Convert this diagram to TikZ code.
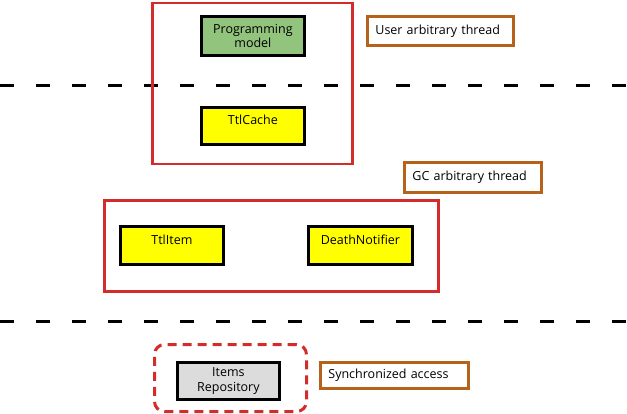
\documentclass[tikz,border=0pt]{standalone}
\usepackage{fontspec}
\setmainfont{Open Sans}
\definecolor{redline}{HTML}{D42B2B}
\definecolor{noteline}{HTML}{B5631A}
\definecolor{pmgreen}{HTML}{93C47D}
\definecolor{ttlyellow}{HTML}{FFFF00}
\definecolor{repogrey}{HTML}{DCDCDC}
\tikzset{
  comp/.style={draw=black, line width=2.8pt, minimum width=103pt, minimum height=38pt, align=center, font=\fontsize{12.5}{14.5}\selectfont, inner sep=0pt, anchor=north west},
  note/.style={draw=noteline, line width=2.8pt, fill=white, font=\fontsize{12.5}{14.5}\selectfont, inner xsep=8pt, inner ysep=0pt, anchor=north west, align=left},
  group/.style={draw=redline, line width=2.8pt},
  sep/.style={line width=3pt, dash pattern=on 14pt off 22pt}
}
\begin{document}
\begin{tikzpicture}[x=1pt, y=-1pt]
\useasboundingbox (0,0) rectangle (627,413);
% separators
\coordinate (s1a) at (0,85); \coordinate (s1b) at (627,85);
\coordinate (s2a) at (0,321); \coordinate (s2b) at (627,321);
\draw[sep] (s1a) -- (s1b);
\draw[sep] (s2a) -- (s2b);
% groups
\node[group, anchor=north west, minimum width=200pt, minimum height=161pt, inner sep=0pt] (g1) at (151,1.5) {};
\node[group, anchor=north west, minimum width=334pt, minimum height=91pt, inner sep=0pt] (g2) at (103,199) {};
\node[draw=redline, line width=3pt, dash pattern=on 9pt off 6pt, rounded corners=10pt, anchor=north west, minimum width=152pt, minimum height=67pt, inner sep=0pt] (g3) at (153,343) {};
% components
\node[comp, fill=pmgreen, minimum height=39pt] (pm) at (200,15) {Programming\\model};
\node[comp, fill=ttlyellow, minimum height=37pt, text depth=12pt] (tc) at (200,106) {TtlCache};
\node[comp, fill=ttlyellow, text depth=12pt] (ti) at (119,225) {TtlItem};
\node[comp, fill=ttlyellow, minimum width=104pt, text depth=12pt] (dn) at (307,225) {DeathNotifier};
\node[comp, fill=repogrey, minimum width=102pt, minimum height=37pt] (ir) at (176,361) {Items\\Repository};
% notes
\node[note, text width=130pt, minimum height=29pt] (n1) at (366,15) {User arbitrary thread};
\node[note, text width=121pt, minimum height=30pt] (n2) at (403,161) {GC arbitrary thread};
\node[note, text width=132pt, minimum height=26pt] (n3) at (319,361) {Synchronized access};
\end{tikzpicture}
\end{document}
